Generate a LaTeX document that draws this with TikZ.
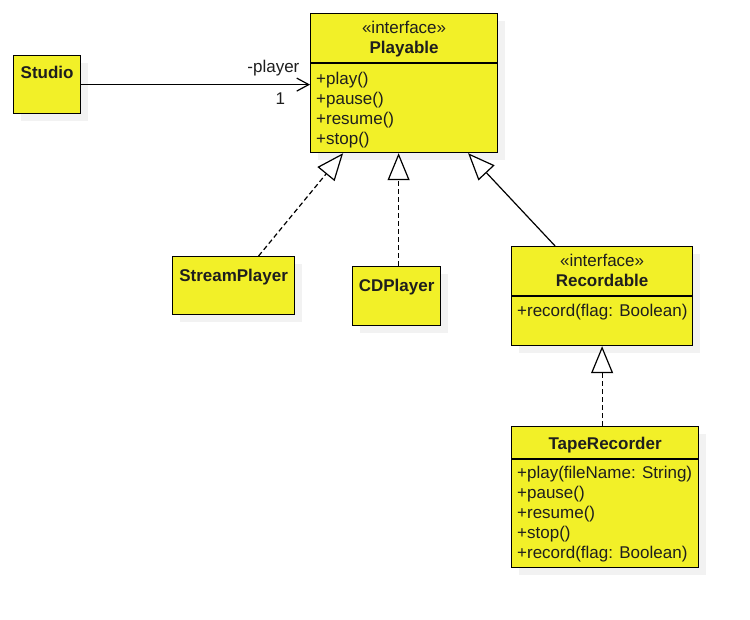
\documentclass[tikz,border=0pt]{standalone}
\usepackage{fontspec}
\setmainfont{Liberation Sans}
\usepackage{tikz}
\usetikzlibrary{arrows.meta,shadows,calc}
\definecolor{umlyellow}{RGB}{242,240,40}
\definecolor{umltext}{RGB}{30,30,30}
\tikzset{
  umlclass/.style={draw, fill=umlyellow, line width=1.2pt, anchor=north west, inner sep=0pt,
    drop shadow={shadow xshift=7pt, shadow yshift=-7pt, fill=black!10}},
  umltitle/.style={anchor=north, inner sep=0pt, align=center, text=umltext},
  umlmembers/.style={anchor=north west, inner sep=0pt, align=left, text=umltext},
  realize/.style={line width=1.2pt, dash pattern=on 5pt off 3pt, -{Triangle[length=27pt, width=22pt, fill=white, line width=1.2pt, sep=0pt]}},
  generalize/.style={line width=1.2pt, -{Triangle[length=27pt, width=22pt, fill=white, line width=1.2pt]}},
  assoc/.style={line width=1.2pt, -{Straight Barb[length=12pt, width=13pt, line width=1.2pt]}}
}

\begin{document}
\begin{tikzpicture}[x=1pt, y=-1pt, every node/.style={font=\fontsize{17pt}{20pt}\selectfont}]
  \useasboundingbox (0,0) rectangle (750,620);

  % classes
  \node[umlclass, minimum width=67pt, minimum height=58pt] (studio) at (13,55) {};
  \node[umlclass, minimum width=187pt, minimum height=139pt] (playable) at (310,13) {};
  \node[umlclass, minimum width=122pt, minimum height=58pt] (stream) at (172,256) {};
  \node[umlclass, minimum width=88pt, minimum height=59pt] (cd) at (352,266) {};
  \node[umlclass, minimum width=181pt, minimum height=99pt] (recordable) at (511,246) {};
  \node[umlclass, minimum width=187pt, minimum height=141pt] (tape) at (511,426) {};

  % compartment lines
  \coordinate (pdiv) at ([yshift=-50pt]playable.north west);
  \coordinate (rdiv) at ([yshift=-50pt]recordable.north west);
  \coordinate (tdiv) at ([yshift=-33pt]tape.north west);
  \draw[line width=1.2pt] (pdiv) -- (pdiv -| playable.east);
  \draw[line width=1.2pt] (rdiv) -- (rdiv -| recordable.east);
  \draw[line width=1.2pt] (tdiv) -- (tdiv -| tape.east);

  % names
  \node[umltitle] (studioname) at ([yshift=-11pt]studio.north) {\textbf{Studio}};
  \node[umltitle] (playname) at ([yshift=-8pt]playable.north) {«interface»\\\textbf{Playable}};
  \node[umltitle] (streamname) at ([yshift=-13pt]stream.north) {\textbf{StreamPlayer}};
  \node[umltitle] (cdname) at ([yshift=-13pt]cd.north) {\textbf{CDPlayer}};
  \node[umltitle] (recname) at ([yshift=-8pt]recordable.north) {«interface»\\\textbf{Recordable}};
  \node[umltitle] (tapename) at ([yshift=-11pt]tape.north) {\textbf{TapeRecorder}};

  % operations
  \node[umlmembers] (playops) at ([xshift=6pt, yshift=-9pt]pdiv) {+play()\\+pause()\\+resume()\\+stop()};
  \node[umlmembers] (recops) at ([xshift=6pt, yshift=-8pt]rdiv) {+record(flag: Boolean)};
  \node[umlmembers] (tapeops) at ([xshift=6pt, yshift=-7pt]tdiv) {+play(fileName: String)\\+pause()\\+resume()\\+stop()\\+record(flag: Boolean)};

  % relations
  \draw[assoc] (studio.east) -- (studio.east -| playable.west)
    node[pos=0.84, above=5pt, text=umltext] {-player}
    node[pos=0.87, below=4pt, text=umltext] {1};
  \draw[realize] ([xshift=25pt]stream.north) -- ([xshift=-61pt]playable.south);
  \draw[realize] ([xshift=2pt]cd.north) -- ([xshift=2pt]cd.north |- playable.south);
  \draw[generalize] ([xshift=-47pt]recordable.north) -- ([xshift=64pt]playable.south);
  \draw[realize] (tape.north -| recordable.south) -- (recordable.south);
\end{tikzpicture}
\end{document}
